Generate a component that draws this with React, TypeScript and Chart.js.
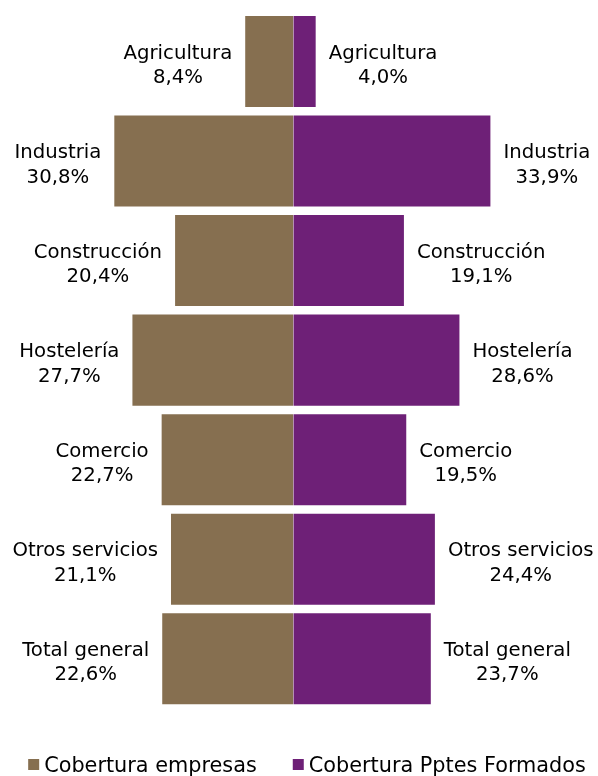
import React, { useEffect, useRef } from "react";
import { Chart, registerables } from "chart.js";

Chart.register(...registerables);

const categories = [
  "Agricultura",
  "Industria",
  "Construcción",
  "Hostelería",
  "Comercio",
  "Otros servicios",
  "Total general",
];
const coberturaEmpresas = [8.4, 30.8, 20.4, 27.7, 22.7, 21.1, 22.6];
const coberturaPptes = [4.0, 33.9, 19.1, 28.6, 19.5, 24.4, 23.7];
const seriesNames = ["Cobertura empresas", "Cobertura Pptes Formados"];
const seriesColors = ["#866F50", "#6E2077"];

const FONT = "'DejaVu Sans', Verdana, sans-serif";

const fmt = (v: number) => v.toFixed(1).replace(".", ",") + "%";

const labelPlugin = {
  id: "butterflyLabels",
  afterDatasetsDraw(chart: any) {
    const ctx = chart.ctx;
    ctx.save();
    ctx.font = `19.7px ${FONT}`;
    ctx.fillStyle = "#000000";
    ctx.textBaseline = "alphabetic";
    ctx.textAlign = "center";
    chart.data.datasets.forEach((ds: any, di: number) => {
      const meta = chart.getDatasetMeta(di);
      meta.data.forEach((bar: any, i: number) => {
        const l1 = chart.data.labels[i];
        const l2 = fmt(Math.abs(ds.data[i]));
        const w = Math.max(ctx.measureText(l1).width, ctx.measureText(l2).width);
        const end = bar.x;
        const cx = di === 0 ? end - 12 - w / 2 : end + 12 + w / 2;
        const cy = bar.y;
        ctx.fillText(l1, cx, cy - 3);
        ctx.fillText(l2, cx, cy + 21.5);
      });
    });
    ctx.restore();
  },
};

const legendPlugin = {
  id: "customLegend",
  afterDraw(chart: any) {
    const ctx = chart.ctx;
    ctx.save();
    ctx.font = `20.8px ${FONT}`;
    ctx.textBaseline = "alphabetic";
    ctx.textAlign = "left";
    const box = 11;
    const gapText = 5;
    const gapItem = 36;
    const items = chart.data.datasets.map((ds: any) => ({
      label: ds.label,
      color: ds.backgroundColor,
      w: box + gapText + ctx.measureText(ds.label).width,
    }));
    const total = items.reduce((s: number, it: any) => s + it.w, 0) + gapItem * (items.length - 1);
    let x = 307 - total / 2;
    const baseline = 771.5;
    items.forEach((it: any) => {
      ctx.fillStyle = it.color;
      ctx.fillRect(x, 759, box, box);
      ctx.fillStyle = "#000000";
      ctx.fillText(it.label, x + box + gapText, baseline);
      x += it.w + gapItem;
    });
    ctx.restore();
  },
};

export default function App() {
  const ref = useRef<HTMLCanvasElement | null>(null);
  useEffect(() => {
    if (!ref.current) return;
    const chart = new Chart(ref.current, {
      type: "bar",
      data: {
        labels: categories,
        datasets: [
          {
            label: seriesNames[0],
            data: coberturaEmpresas.map((v) => -v),
            backgroundColor: seriesColors[0],
            borderColor: "rgba(255,255,255,0.4)",
            borderWidth: 1,
            borderSkipped: "start",
            barPercentage: 0.935,
            categoryPercentage: 1,
          },
          {
            label: seriesNames[1],
            data: coberturaPptes,
            backgroundColor: seriesColors[1],
            borderColor: "rgba(255,255,255,0.4)",
            borderWidth: 1,
            borderSkipped: "start",
            barPercentage: 0.935,
            categoryPercentage: 1,
          },
        ],
      },
      options: {
        indexAxis: "y",
        responsive: false,
        animation: false,
        layout: { padding: { top: 11.75, bottom: 67.5, left: 0, right: 0 } },
        scales: {
          x: { stacked: true, display: false, min: -50.19, max: 52.14 },
          y: { stacked: true, display: false },
        },
        plugins: {
          legend: { display: false },
          tooltip: { enabled: false },
        },
      },
      plugins: [labelPlugin, legendPlugin],
    });
    return () => chart.destroy();
  }, []);
  return (
    <div style={{ position: "absolute", left: 0, top: 0, width: 598, height: 776, background: "#ffffff" }}>
      <canvas ref={ref} width={598} height={776} style={{ display: "block" }} />
    </div>
  );
}
